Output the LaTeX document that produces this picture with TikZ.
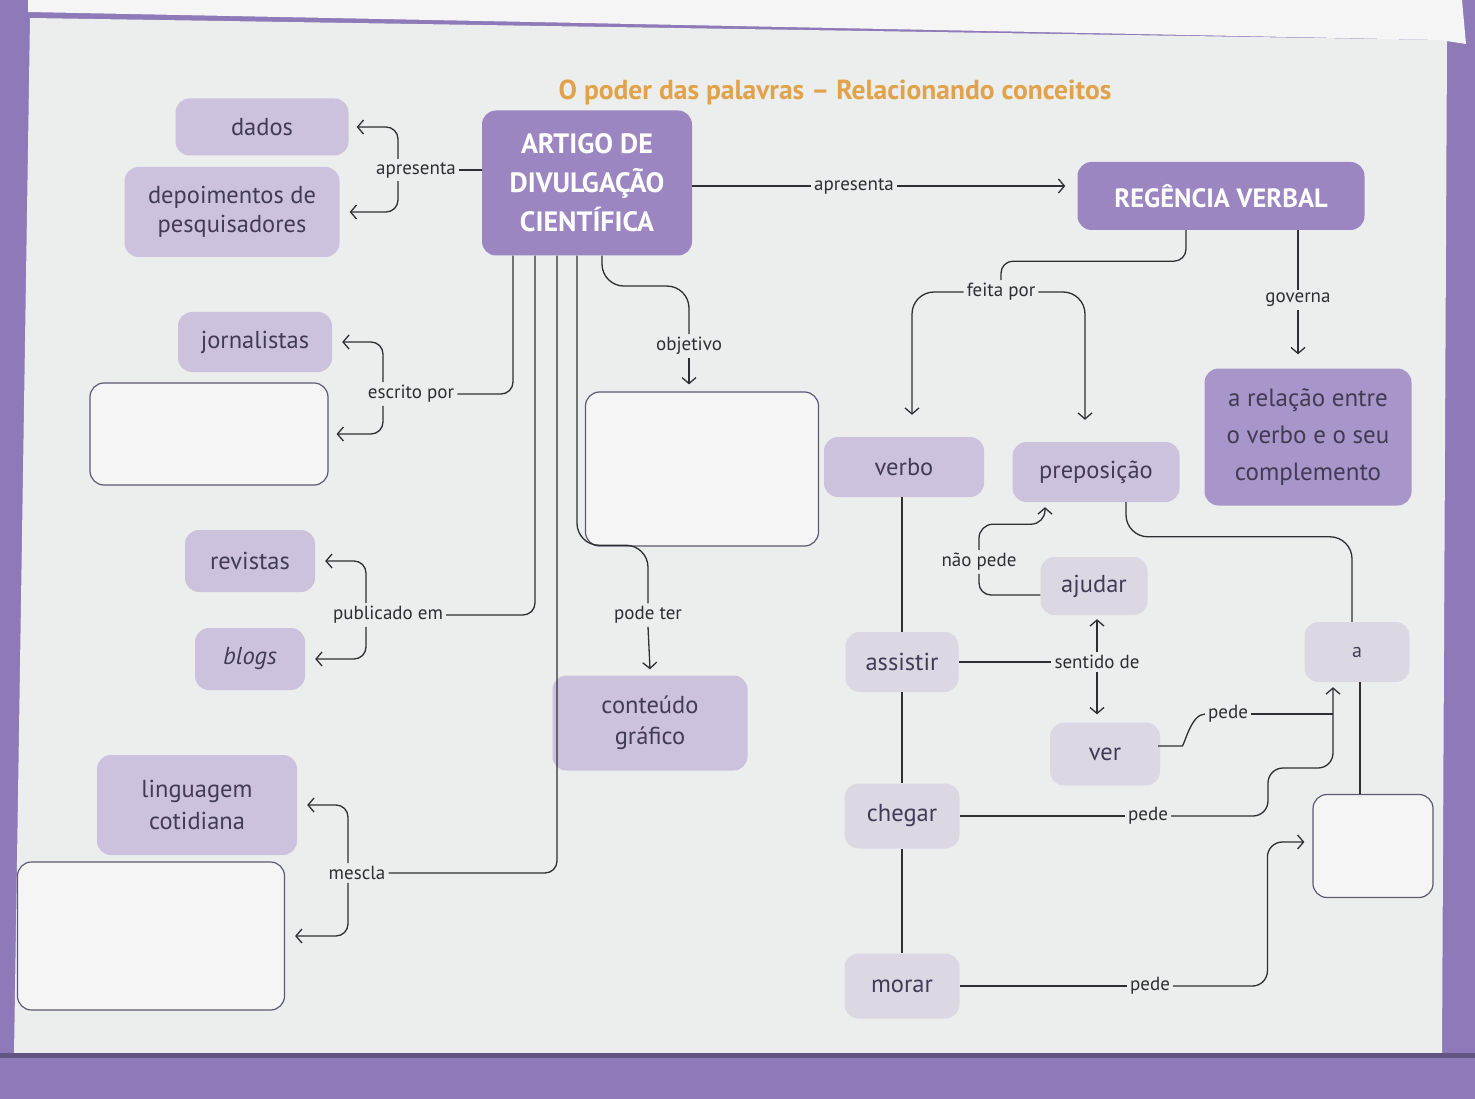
\documentclass[tikz,border=0pt]{standalone}
\usepackage{fontspec}
\setmainfont{PT Sans}
\usetikzlibrary{arrows.meta,calc}
\definecolor{frame}{HTML}{8E7AB8}
\definecolor{page}{HTML}{ECEEED}
\definecolor{mainbox}{HTML}{9B86C2}
\definecolor{relbox}{HTML}{A895C9}
\definecolor{lightbox}{HTML}{CCC2DD}
\definecolor{greybox}{HTML}{DBD8E4}
\definecolor{txt}{HTML}{413B55}
\definecolor{lin}{HTML}{2E2E33}
\definecolor{titlec}{HTML}{E0A24A}
\definecolor{emptyline}{HTML}{5E5870}
\begin{document}
\begin{tikzpicture}[x=1pt,y=-1pt,
  box/.style={rounded corners=14pt, align=center, inner sep=2pt, text=txt,
    font=\fontsize{24.5}{29}\selectfont},
  mbox/.style={box, fill=mainbox, text=white, font=\bfseries\fontsize{28}{39}\selectfont},
  rbox/.style={box, fill=relbox, text=txt, font=\fontsize{25}{37}\selectfont},
  lbox/.style={box, fill=lightbox},
  gbox/.style={box, fill=greybox},
  ebox/.style={box, fill=page!60!white, draw=emptyline, line width=1.2pt},
  lbl/.style={font=\fontsize{19}{22}\selectfont, text=lin, inner sep=3pt},
  conn/.style={draw=lin, line width=1.3pt, rounded corners=12pt},
  arr/.style={conn, -{Straight Barb[length=6pt,width=14pt,line width=1.3pt]}},
  bigr/.style={rounded corners=22pt}
]
\useasboundingbox (0,0) rectangle (1475,1099);
% background
\fill[frame] (0,0) rectangle (1475,1099);
\fill[page] (30,18) -- (1447,40) -- (1442,1055) -- (14,1055) -- cycle;
\fill[white!92!gray] (28,0) -- (1462,0) -- (1466,44) -- (1440,40) -- (28,12) -- cycle;
\fill[frame!70!black] (0,1053) rectangle (1475,1058);

% title
\node[font=\bfseries\fontsize{27.5}{30}\selectfont, text=titlec] (title) at (835,92)
  {O poder das palavras – Relacionando conceitos};

% nodes
\node[lbox, minimum width=173, minimum height=57] (dados) at (262,127) {dados};
\node[lbox, minimum width=215, minimum height=90] (depo) at (232,212) {depoimentos de\\pesquisadores};
\node[mbox, minimum width=210, minimum height=145] (artigo) at (587,183) {ARTIGO DE\\DIVULGAÇÃO\\CIENTÍFICA};
\node[mbox, minimum width=287, minimum height=68, font=\bfseries\fontsize{26.5}{30}\selectfont] (regencia) at (1221,196) {REGÊNCIA VERBAL};
\node[lbox, minimum width=154, minimum height=60] (jorn) at (255,342) {jornalistas};
\node[ebox, minimum width=238, minimum height=102] (e1) at (209,434) {};
\node[lbox, minimum width=130, minimum height=62] (rev) at (250,561) {revistas};
\node[lbox, minimum width=110, minimum height=62] (blogs) at (250,659) {\itshape blogs};
\node[lbox, minimum width=200, minimum height=100, font=\fontsize{24.5}{32}\selectfont] (ling) at (197,805) {linguagem\\cotidiana};
\node[ebox, minimum width=267, minimum height=148] (e2) at (151,936) {};
\node[ebox, minimum width=233, minimum height=154] (e3) at (702,469) {};
\node[lbox, minimum width=195, minimum height=95, font=\fontsize{24.5}{31}\selectfont] (conteudo) at (650,723) {conteúdo\\gráfico};
\node[lbox, minimum width=160, minimum height=60] (verbo) at (904,467) {verbo};
\node[lbox, minimum width=167, minimum height=60] (prep) at (1096,472) {preposição};
\node[rbox, minimum width=207, minimum height=137] (relacao) at (1308,437) {a relação entre\\o verbo e o seu\\complemento};
\node[gbox, minimum width=107, minimum height=58] (ajudar) at (1094,586) {ajudar};
\node[gbox, minimum width=113, minimum height=60] (assistir) at (902,662) {assistir};
\node[gbox, minimum width=105, minimum height=60, font=\fontsize{20}{24}\selectfont] (a) at (1357,652) {a};
\node[gbox, minimum width=110, minimum height=63] (ver) at (1105,754) {ver};
\node[gbox, minimum width=115, minimum height=65] (chegar) at (902,816) {chegar};
\node[gbox, minimum width=115, minimum height=65] (morar) at (902,986) {morar};
\node[ebox, minimum width=120, minimum height=103] (e4) at (1373,846) {};

% labels
\node[lbl] (l1) at (416,170) {apresenta};
\node[lbl] (l2) at (854,186) {apresenta};
\node[lbl] (l3) at (411,394) {escrito por};
\node[lbl] (l4) at (388,615) {publicado em};
\node[lbl] (l5) at (357,873) {mescla};
\node[lbl] (l6) at (648,615) {pode ter};
\node[lbl] (l7) at (689,346) {objetivo};
\node[lbl] (l8) at (1001,292) {feita por};
\node[lbl] (l9) at (1298,300) {governa};
\node[lbl] (l10) at (1097,662) {sentido de};
\node[lbl] (l11) at (979,562) {não pede};
\node[lbl] (l12) at (1228,714) {pede};
\node[lbl] (l13) at (1148,816) {pede};
\node[lbl] (l14) at (1150,986) {pede};

% apresenta (left)
\draw[conn] (l1.east) -- (artigo.west |- l1.east);
\draw[arr] ([xshift=-18pt]l1.north) |- ([xshift=8pt]dados.east);
\draw[arr] ([xshift=-18pt]l1.south) |- ([xshift=10pt]depo.east);
% apresenta (main)
\draw[conn] (artigo.east |- l2) -- (l2.west);
\draw[arr] (l2.east) -- ([xshift=-12pt]regencia.west |- l2);
% escrito por
\draw[conn] (l3.east) -| ([xshift=-74pt]artigo.south);
\draw[arr] ([xshift=-28pt]l3.north) |- ([xshift=10pt]jorn.east);
\draw[arr] ([xshift=-28pt]l3.south) |- ([xshift=8pt]e1.east);
% publicado em
\draw[conn] (l4.east) -| ([xshift=-52pt]artigo.south);
\draw[arr] ([xshift=-22pt]l4.north) |- ([xshift=10pt]rev.east);
\draw[arr] ([xshift=-22pt]l4.south) |- ([xshift=10pt]blogs.east);
% mescla
\draw[conn] (l5.east) -| ([xshift=-30pt]artigo.south);
\draw[arr] ([xshift=-9pt]l5.north) |- ([xshift=10pt]ling.east);
\draw[arr] ([xshift=-9pt]l5.south) |- ([xshift=10pt]e2.east);
% pode ter
\draw[conn, bigr] ([xshift=-10pt]artigo.south) |- ([yshift=58pt]l6.north) -- (l6.north);
\draw[arr] (l6.south) -- ([yshift=6pt]conteudo.north);
% objetivo
\draw[conn, bigr] ([xshift=15pt]artigo.south) |- ([yshift=48pt]l7.north) -- (l7.north);
\draw[arr] (l7.south) -- ([yshift=7pt]l7.south |- e3.north);
% feita por
\draw[conn] ([xshift=-35pt]regencia.south) |- ([yshift=19pt]l8.north) -- (l8.north);
\draw[arr, bigr] (l8.west) -| ([xshift=8pt,yshift=22pt]verbo.north);
\draw[arr, bigr] (l8.east) -| ([xshift=-11pt,yshift=22pt]prep.north);
% governa
\draw[conn] ([xshift=77pt]regencia.south) -- (l9.north);
\draw[arr] (l9.south) -- ([yshift=14pt]l9.south |- relacao.north);
% verb column
\draw[conn] ([xshift=-2pt]verbo.south) -- (assistir.north);
\draw[conn] (assistir.south) -- (chegar.north);
\draw[conn] (chegar.south) -- (morar.north);
% assistir - sentido de
\draw[conn] (assistir.east) -- (l10.west);
\draw[arr] (l10.north) -- ([yshift=-4pt]l10.north |- ajudar.south);
\draw[arr] (l10.south) -- ([yshift=8pt]l10.south |- ver.north);
% não pede
\draw[conn] ([yshift=-9pt]ajudar.west) -| (l11.south);
\draw[arr, rounded corners=14pt] (l11.north) |- ([xshift=-51pt,yshift=-22pt]prep.south) -- ([xshift=-51pt,yshift=-5pt]prep.south);
% preposição - a
\draw[conn, bigr] ([xshift=30pt]prep.south) |- ([yshift=85pt,xshift=-5pt]a.north) -- ([xshift=-5pt]a.north);
% a - empty box
\draw[conn] ([xshift=3pt]a.south) -- ([xshift=3pt]a.south |- e4.north);
% ver - pede
\draw[conn] ([yshift=8pt]ver.east) -- ++(10,0) .. controls +(14,0) and +(-14,0) .. (l12.west);
\draw[conn] (l12.east) -- ([xshift=-24pt]a.south |- l12.east);
% chegar - pede
\coordinate (c1) at (1268,768);
\draw[conn] (chegar.east) -- (l13.west);
\draw[arr, rounded corners=15pt] (l13.east) -| (c1) -| ([xshift=-24pt,yshift=-5pt]a.south);
% morar - pede
\draw[conn] (morar.east) -- (l14.west);
\draw[arr, rounded corners=15pt] (l14.east) -| ([xshift=-45pt,yshift=4pt]e4.west) -- ([xshift=-8pt,yshift=4pt]e4.west);
\end{tikzpicture}
\end{document}
